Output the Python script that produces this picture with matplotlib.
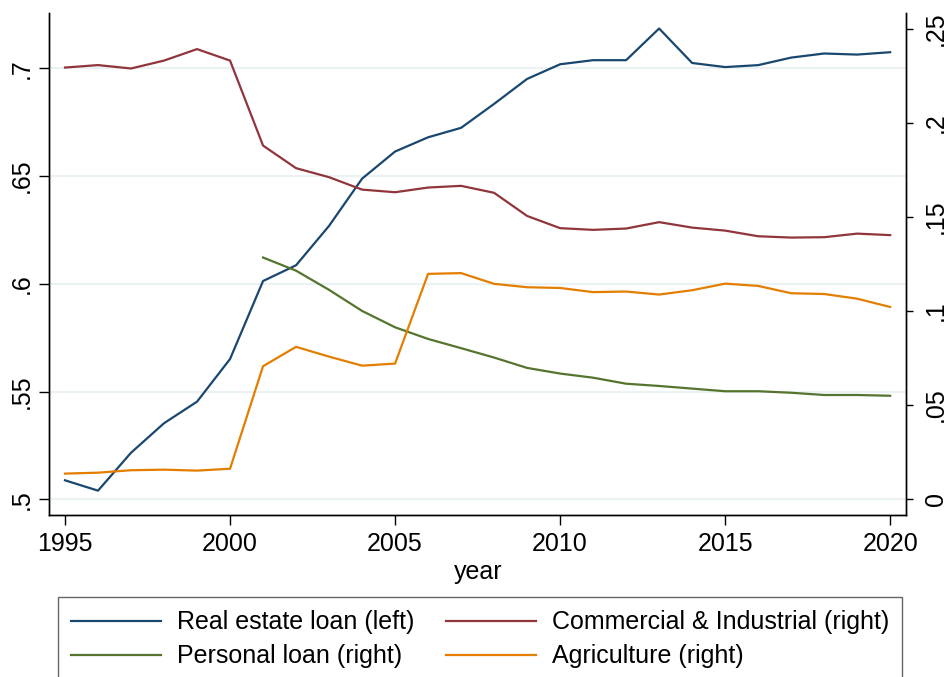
import matplotlib.pyplot as plt
import numpy as np

plt.rcParams['font.family'] = ['Liberation Sans', 'DejaVu Sans']

years = list(range(1995, 2021))

# loan shares, left axis
real_estate = [0.5088, 0.5040, 0.5216, 0.5353, 0.5453, 0.5651, 0.6013, 0.6086,
               0.6269, 0.6488, 0.6614, 0.6680, 0.6724, 0.6835, 0.6951, 0.7019,
               0.7038, 0.7038, 0.7185, 0.7025, 0.7006, 0.7015, 0.7050, 0.7069,
               0.7064, 0.7075]

# loan shares, right axis
commercial = [0.2294, 0.2307, 0.2289, 0.2331, 0.2392, 0.2331, 0.1879, 0.1759,
              0.1711, 0.1645, 0.1631, 0.1656, 0.1665, 0.1628, 0.1505, 0.1440,
              0.1431, 0.1438, 0.1472, 0.1443, 0.1427, 0.1397, 0.1390, 0.1392,
              0.1411, 0.1403]

personal_years = list(range(2001, 2021))
personal = [0.1284, 0.1214, 0.1112, 0.1000, 0.0913, 0.0851, 0.0802, 0.0752,
            0.0697, 0.0667, 0.0645, 0.0613, 0.0601, 0.0587, 0.0573, 0.0573,
            0.0565, 0.0553, 0.0553, 0.0549]

agriculture = [0.0135, 0.0140, 0.0153, 0.0156, 0.0151, 0.0161, 0.0706, 0.0809,
               0.0757, 0.0709, 0.0720, 0.1197, 0.1201, 0.1144, 0.1126, 0.1122,
               0.1100, 0.1103, 0.1087, 0.1110, 0.1145, 0.1133, 0.1094, 0.1090,
               0.1065, 0.1021]

left_ticks = [0.5, 0.55, 0.6, 0.65, 0.7]
left_labels = ['.5', '.55', '.6', '.65', '.7']
right_ticks = [0, 0.05, 0.1, 0.15, 0.2, 0.25]
right_labels = ['0', '.05', '.1', '.15', '.2', '.25']
x_ticks = [1995, 2000, 2005, 2010, 2015, 2020]

navy = '#1a476f'
maroon = '#90353b'
green = '#55752f'
orange = '#e37e00'

fs = 18

fig = plt.figure(figsize=(9.5, 6.77), dpi=100)
ax = fig.add_axes([0.0521, 0.2393, 0.9016, 0.7415])
ax2 = ax.twinx()

ax.set_xlim(1994.53, 2020.48)
ax.set_ylim(0.4927, 0.7257)
ax2.set_ylim(-0.0085, 0.2584)

for t in left_ticks:
    ax.axhline(t, color='#eaf2f3', lw=1.5, zorder=0)

l1, = ax.plot(years, real_estate, color=navy, lw=1.6, label='Real estate loan (left)')
l2, = ax2.plot(years, commercial, color=maroon, lw=1.6, label='Commercial & Industrial (right)')
l3, = ax2.plot(personal_years, personal, color=green, lw=1.6, label='Personal loan (right)')
l4, = ax2.plot(years, agriculture, color=orange, lw=1.6, label='Agriculture (right)')

ax.set_xticks(x_ticks)
ax.set_xticklabels([str(x) for x in x_ticks])
ax.set_yticks(left_ticks)
ax.set_yticklabels(left_labels, rotation=90, va='center')
ax2.set_yticks(right_ticks)
ax2.set_yticklabels(right_labels, rotation=90, va='center')

ax.tick_params(axis='x', length=7, width=1, pad=5, labelsize=fs)
ax.tick_params(axis='y', length=7, width=1, pad=4, labelsize=fs)
ax2.tick_params(axis='y', length=5, width=1, pad=8, labelsize=fs)

for a in (ax, ax2):
    a.spines['top'].set_visible(False)
    for s in ('left', 'right', 'bottom'):
        a.spines[s].set_linewidth(1.0)

ax.set_xlabel('year', fontsize=fs, labelpad=3)

fig.legend([l1, l3, l2, l4],
           [l1.get_label(), l3.get_label(), l2.get_label(), l4.get_label()],
           loc='upper left', bbox_to_anchor=(0.0614, 0.1177), ncol=2,
           fontsize=fs, frameon=True, fancybox=False, edgecolor='#404040',
           handlelength=3.6, handletextpad=0.64, columnspacing=1.25,
           borderpad=0.52, labelspacing=0.4, borderaxespad=0)

fig.savefig('out.png', dpi=100)
